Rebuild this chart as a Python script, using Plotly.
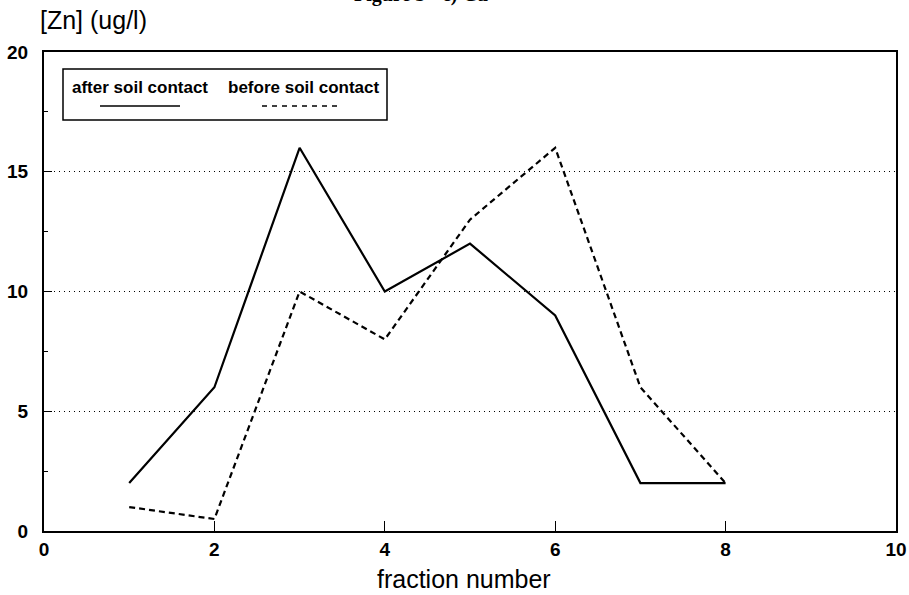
import plotly.graph_objects as go

fraction = [1, 2, 3, 4, 5, 6, 7, 8]
after_soil = [2, 6, 16, 10, 12, 9, 2, 2]
before_soil = [1, 0.5, 10, 8, 13, 16, 6, 2]

W, H = 909, 595
L, R, T, B = 44, 13, 52, 64
pw, ph = W - L - R, H - T - B

def px(x):
    return (x - L) / pw

def py(y):
    return (H - B - y) / ph

fig = go.Figure()
fig.add_trace(go.Scatter(x=fraction, y=after_soil, mode="lines", name="after soil contact",
                         line=dict(color="black", width=2.2)))
fig.add_trace(go.Scatter(x=fraction, y=before_soil, mode="lines", name="before soil contact",
                         line=dict(color="black", width=2.2, dash="6px,4px")))

font_b = "Liberation Sans"

fig.update_layout(
    width=W, height=H,
    margin=dict(l=L, r=R, t=T, b=B, autoexpand=False),
    paper_bgcolor="white", plot_bgcolor="white",
    showlegend=False,
    xaxis=dict(range=[0, 10], tickvals=[0, 2, 4, 6, 8, 10], ticks="inside", ticklen=10,
               tickwidth=1, tickcolor="black", showline=True, linewidth=2, linecolor="black",
               mirror=True, showgrid=False, zeroline=False, automargin=False,
               ticklabelstandoff=0,
               tickfont=dict(family=font_b, size=19, color="black", weight="bold")),
    yaxis=dict(range=[0, 20], tickvals=[0, 5, 10, 15, 20], ticks="inside", ticklen=8,
               tickwidth=1, tickcolor="black", showline=True, linewidth=2, linecolor="black",
               mirror=True, showgrid=True, gridcolor="black", gridwidth=1, griddash="1px,4px",
               zeroline=False, ticklabelstandoff=10, automargin=False,
               minor=dict(tickvals=[2.5, 7.5, 12.5, 17.5], ticks="inside", ticklen=4,
                          tickcolor="black", showgrid=False),
               tickfont=dict(family=font_b, size=19, color="black", weight="bold")),
)

# Titles
fig.add_annotation(text="[Zn] (ug/l)", xref="paper", yref="paper", x=px(38), y=py(20),
                   xanchor="left", yanchor="middle", showarrow=False,
                   font=dict(family=font_b, size=25, color="black"))
fig.add_annotation(text="fraction number", xref="paper", yref="paper", x=px(464), y=py(579),
                   xanchor="center", yanchor="middle", showarrow=False,
                   font=dict(family=font_b, size=25, color="black"))
fig.add_annotation(text="Figure 3 - c) Cu", xref="paper", yref="paper", x=px(421), y=py(8),
                   xanchor="center", yanchor="bottom", showarrow=False,
                   font=dict(family="Liberation Serif", size=20, color="black", weight="bold"))

# Custom legend
fig.add_shape(type="rect", xref="paper", yref="paper", x0=px(63), x1=px(387), y0=py(120), y1=py(69),
              line=dict(color="black", width=1.5), fillcolor="white", layer="above")
fig.add_annotation(text="after soil contact", xref="paper", yref="paper", x=px(70), y=py(88),
                   xanchor="left", yanchor="middle", showarrow=False,
                   font=dict(family=font_b, size=17, color="black", weight="bold"))
fig.add_annotation(text="before soil contact", xref="paper", yref="paper", x=px(226), y=py(88),
                   xanchor="left", yanchor="middle", showarrow=False,
                   font=dict(family=font_b, size=17, color="black", weight="bold"))
fig.add_shape(type="line", xref="paper", yref="paper", x0=px(100), x1=px(180), y0=py(106), y1=py(106),
              line=dict(color="black", width=1.5), layer="above")
fig.add_shape(type="line", xref="paper", yref="paper", x0=px(262), x1=px(340), y0=py(106), y1=py(106),
              line=dict(color="black", width=1.5, dash="5px,5px"), layer="above")

fig.write_html("out.html")
